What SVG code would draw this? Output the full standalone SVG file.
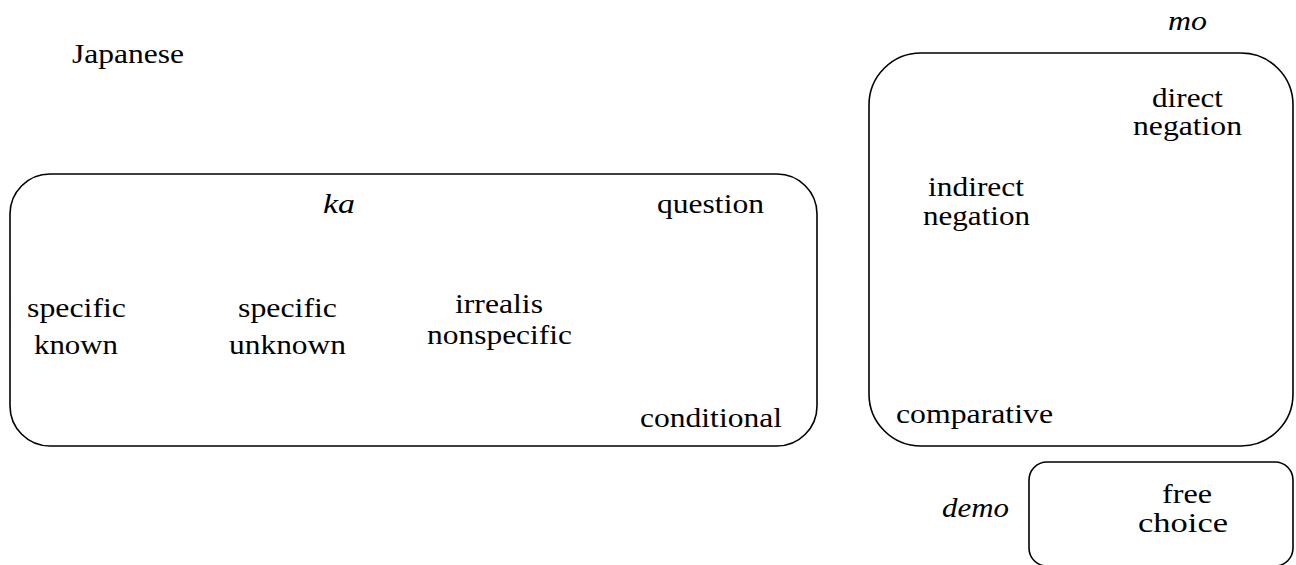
<svg xmlns="http://www.w3.org/2000/svg" width="1296" height="565" viewBox="0 0 1296 565">
<style>
.box{fill:none;stroke:#000;stroke-width:1.6}
text{font-family:"Liberation Serif","Times New Roman",serif;font-size:28px;fill:#000}
.i{font-style:italic}
</style>
<rect width="1296" height="565" fill="#fff"/>
<g id="title"><text x="72" y="63" textLength="112" lengthAdjust="spacingAndGlyphs">Japanese</text></g>
<g id="ka">
<rect class="box" x="10" y="174" width="807" height="272" rx="40" ry="40"/>
<text class="i" x="323" y="213" textLength="32" lengthAdjust="spacingAndGlyphs">ka</text>
</g>
<g id="question"><text x="657" y="213" textLength="107" lengthAdjust="spacingAndGlyphs">question</text></g>
<g id="specific-known">
<text x="27" y="317" textLength="99" lengthAdjust="spacingAndGlyphs">specific</text>
<text x="34" y="354" textLength="84" lengthAdjust="spacingAndGlyphs">known</text>
</g>
<g id="specific-unknown">
<text x="238" y="317" textLength="99" lengthAdjust="spacingAndGlyphs">specific</text>
<text x="229" y="354" textLength="117" lengthAdjust="spacingAndGlyphs">unknown</text>
</g>
<g id="irrealis-nonspecific">
<text x="455" y="313" textLength="88" lengthAdjust="spacingAndGlyphs">irrealis</text>
<text x="427" y="344" textLength="145" lengthAdjust="spacingAndGlyphs">nonspecific</text>
</g>
<g id="conditional"><text x="640" y="427" textLength="142" lengthAdjust="spacingAndGlyphs">conditional</text></g>
<g id="mo">
<rect class="box" x="869" y="53" width="424" height="393" rx="52" ry="52"/>
<text class="i" x="1168" y="30" textLength="39" lengthAdjust="spacingAndGlyphs">mo</text>
</g>
<g id="direct-negation">
<text x="1152" y="107" textLength="71" lengthAdjust="spacingAndGlyphs">direct</text>
<text x="1133" y="135" textLength="109" lengthAdjust="spacingAndGlyphs">negation</text>
</g>
<g id="indirect-negation">
<text x="928" y="196" textLength="96" lengthAdjust="spacingAndGlyphs">indirect</text>
<text x="923" y="225" textLength="107" lengthAdjust="spacingAndGlyphs">negation</text>
</g>
<g id="comparative"><text x="896" y="423" textLength="157" lengthAdjust="spacingAndGlyphs">comparative</text></g>
<g id="demo">
<rect class="box" x="1029" y="462" width="264" height="104" rx="18" ry="18"/>
<text class="i" x="942" y="517" textLength="67" lengthAdjust="spacingAndGlyphs">demo</text>
</g>
<g id="free-choice">
<text x="1162" y="503" textLength="50" lengthAdjust="spacingAndGlyphs">free</text>
<text x="1138" y="532" textLength="90" lengthAdjust="spacingAndGlyphs">choice</text>
</g>
<g id="connectors"></g>
</svg>
